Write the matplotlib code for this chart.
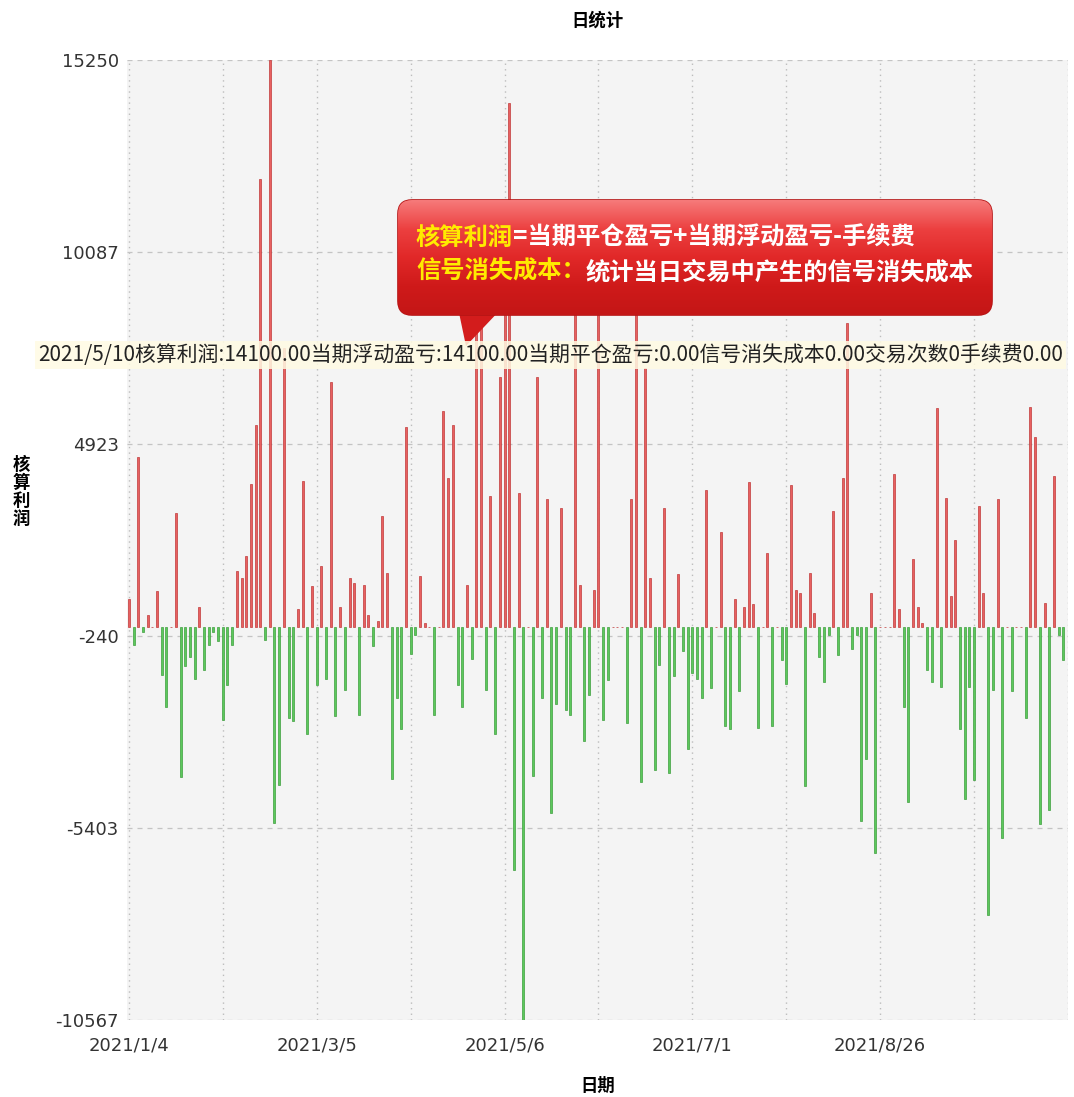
import matplotlib
matplotlib.use('Agg')
import matplotlib.pyplot as plt
import numpy as np
from matplotlib.patches import FancyBboxPatch, Polygon
from matplotlib.colors import LinearSegmentedColormap

plt.rcParams['font.family'] = ['Noto Sans CJK SC', 'DejaVu Sans']

# 核算利润, one value per trading day
profit = [
    750, -480, 4570, -130, 320, 0, 970, -1290, -2150, 0,
    3070, -4030, -1050, -810, -1400, 540, -1160, -480, -130, -380,
    -2500, -1560, -480, 1500, 1320, 1910, 3850, 5430, 12050, -350,
    15250, -5270, -4250, 7500,
    -2450, -2530, 480, 3930, -2880, 1100, -1560, 1640, -1400, 6590,
    -2390, 540, -1690, 1320, 1180, -2370, 1130, 320, -510, 160,
    2980, 1450, -4090, -1910, -2740, 5380, -730, -200, 1370, 110,
    0, -2370, 0,
    5810, 4010, 5430, -1560, -2150, 1130, -860, 8200, 8400, -1690,
    3520, -2880, 6720, 9000, 14100, -6530, 3610, -10567, 0, -4000,
    6720, -1910, 3440, -5000, -2070, 3200, -2230, -2370, 9800, 1130,
    -3070, -1830, 1000,
    10200, -2500, -1430, 0, 0, 0, -2580, 3440, 9300, -4170,
    6970, 1320, -3850, -1020, 3200, -3930, -1320, 1430, -650, -3280,
    -1240, -1400, -1910, 3680, -1640, 0, 2550, -2660, -2740, 750,
    -1720, 540, 3900, 620, -2720,
    0, 1990, -2660, 0, -890, -1530, 3820, 1000, 910, -4280,
    1450, 380, -810, -1480, -200, 3120, -750, 4010, 8170, -590,
    -200, -5220, -3550, 910, -6080, 0, 0, 0, 4110, 480,
    -2150, -4710, 1830, 540,
    110, -1160, -1480, 5890, -1610, 3470, 830, 2340, -2740, -4630,
    -1610, -4110, 3250, 910, -7740, -1690, 3440, -5670, 0, -1720,
    0, 0, -2450, 5920, 5110, -5300, 650, -4920, 4060, -200,
    -890,
]
date_labels = ['2021/1/4', '2021/3/5', '2021/5/6', '2021/7/1', '2021/8/26']
y_ticks = [15250, 10087, 4923, -240, -5403, -10567]

tip_text = ('2021/5/10核算利润:14100.00当期浮动盈亏:14100.00当期平仓盈亏:0.00'
            '信号消失成本0.00交易次数0手续费0.00')
note_keys = ['核算利润', '信号消失成本：']
note_vals = ['=当期平仓盈亏+当期浮动盈亏-手续费', '统计当日交易中产生的信号消失成本']

W, H = 1074, 1097
fig = plt.figure(figsize=(W / 100, H / 100), dpi=100)
fig.patch.set_facecolor('white')
ax = fig.add_axes([127 / W, 1 - 1020 / H, (1068 - 127) / W, 960 / H])
ax.set_facecolor('#f4f4f4')

vals = np.array(profit)
x = np.arange(len(vals))
face = np.where(vals >= 0, '#e86060', '#5cc85c')
edge = np.where(vals >= 0, '#c03a3a', '#3e9e3e')
ax.bar(x, vals, width=0.42, color=face, edgecolor=edge, linewidth=0.5, zorder=3)

ax.set_xlim(-0.4, 200)
ax.set_ylim(-10567, 15250)
ax.set_yticks(y_ticks)
ax.set_yticklabels([str(v) for v in y_ticks])
xt = list(range(0, 201, 20))
ax.set_xticks(xt)
ax.set_xticklabels([date_labels[i // 2] if i % 2 == 0 and i // 2 < len(date_labels) else ''
                    for i in range(len(xt))])
ax.tick_params(length=0, labelsize=13, colors='#333333')
ax.tick_params(axis='y', pad=6)
ax.tick_params(axis='x', pad=12)
for lbl in ax.get_xticklabels() + ax.get_yticklabels():
    lbl.set_fontfamily('DejaVu Sans')

ax.yaxis.grid(True, color='#c4c4c4', linestyle=(0, (4, 4)), linewidth=0.9, zorder=0)
ax.xaxis.grid(True, color='#bcbcbc', linestyle=(0, (1, 3)), linewidth=1.0, zorder=0)
ax.set_axisbelow(True)
for s in ax.spines.values():
    s.set_visible(False)

ax.set_title('日统计', fontsize=12.5, fontweight='bold', pad=25)
ax.set_xlabel('日期', fontsize=12.5, fontweight='bold', labelpad=16)
ax.set_ylabel('\n'.join('核算利润'), rotation=0, fontsize=12.5, fontweight='bold',
              linespacing=1.0, va='center', ha='center')
ax.yaxis.set_label_coords(-0.112, 0.55)

# overlay in pixel units for the callout and the hover tooltip
ov = fig.add_axes([0, 0, 1, 1], zorder=5)
ov.set_xlim(0, W)
ov.set_ylim(H, 0)
ov.axis('off')

ptr = Polygon([(458, 308), (502, 308), (466, 346)], closed=True,
              facecolor='#d31c1c', edgecolor='none', zorder=1)
ov.add_patch(ptr)
box = FancyBboxPatch((410, 212), 570, 91, boxstyle='round,pad=12,rounding_size=14',
                     facecolor='#e02a2a', edgecolor='#b51414', linewidth=1.2, zorder=2)
ov.add_patch(box)
cmap = LinearSegmentedColormap.from_list('cb', ['#f67a7a', '#ec4040', '#e12828', '#cf1a1a', '#c41616'])
grad = np.linspace(0, 1, 200).reshape(-1, 1)
im = ov.imshow(grad, extent=(398, 992, 315, 200), cmap=cmap, aspect='auto', zorder=2.5)
im.set_clip_path(box)

for i, (k, v) in enumerate(zip(note_keys, note_vals)):
    yy = 238 + i * 34
    t = ov.text(416, yy, k, color='#ffeb00', fontsize=17.5, fontweight='bold', va='center',
                ha='left', zorder=4)
    ov.annotate(v, xy=(1, 0.5), xycoords=t, color='white', fontsize=17.5, fontweight='bold',
                va='center', ha='left', zorder=4)

ov.text(38, 355, tip_text, fontsize=15, color='#222222', va='center', ha='left', zorder=6,
        bbox=dict(facecolor='#fffbe3', alpha=0.85, edgecolor='none', pad=2))

fig.savefig('out.png', dpi=100)
